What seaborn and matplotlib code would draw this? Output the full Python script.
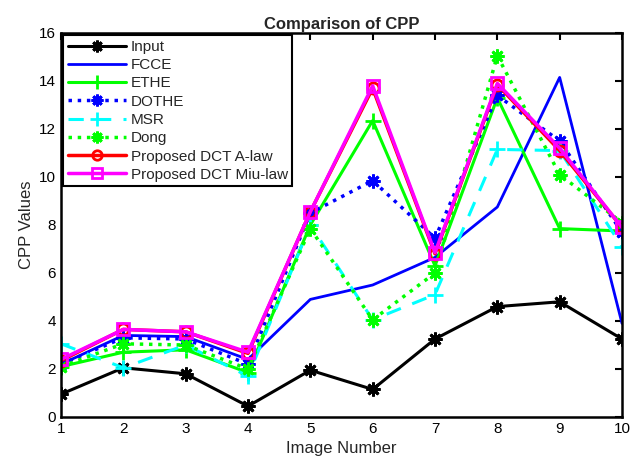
import matplotlib
matplotlib.use("Agg")
import matplotlib.pyplot as plt
import seaborn as sns
import pandas as pd

sns.set_style("white")
plt.rcParams['font.family'] = ['Liberation Sans', 'DejaVu Sans']

images = [1, 2, 3, 4, 5, 6, 7, 8, 9, 10]
series_names = ["Input", "FCCE", "ETHE", "DOTHE", "MSR", "Dong",
                "Proposed DCT A-law", "Proposed DCT Miu-law"]
input_vals = [0.95, 2.05, 1.8, 0.45, 1.95, 1.15, 3.25, 4.6, 4.8, 3.25]
fcce_vals = [2.2, 3.4, 3.35, 2.4, 4.9, 5.5, 6.65, 8.75, 14.15, 3.9]
ethe_vals = [2.1, 2.7, 2.8, 1.85, 8.0, 12.35, 6.3, 13.3, 7.85, 7.75]
dothe_vals = [2.2, 3.3, 3.25, 2.2, 8.5, 9.85, 7.45, 13.4, 11.5, 7.7]
msr_vals = [3.05, 2.05, 3.0, 1.7, 8.0, 4.05, 5.1, 11.15, 11.1, 7.1]
dong_vals = [2.1, 3.05, 3.0, 2.0, 7.85, 4.05, 6.0, 15.05, 10.1, 8.1]
alaw_vals = [2.35, 3.65, 3.55, 2.65, 8.55, 13.7, 6.8, 13.85, 11.1, 7.9]
miulaw_vals = [2.4, 3.65, 3.55, 2.7, 8.55, 13.8, 6.85, 13.9, 11.2, 7.9]

all_vals = [input_vals, fcce_vals, ethe_vals, dothe_vals, msr_vals,
            dong_vals, alaw_vals, miulaw_vals]

styles = {
    "Input": dict(color="black", ls="-", marker=(8, 2, 0), ms=10, mfc="black", lw=2.2),
    "FCCE": dict(color="#0000ff", ls="-", marker=None, ms=0, mfc="none", lw=2),
    "ETHE": dict(color="#00ff00", ls="-", marker="+", ms=12, mfc="none", lw=2.2),
    "DOTHE": dict(color="#0000ff", ls=":", marker=(8, 2, 0), ms=10, mfc="#0000ff", lw=2.5),
    "MSR": dict(color="#00ffff", ls=(0, (5, 4)), marker="+", ms=12, mfc="none", lw=2.2),
    "Dong": dict(color="#00ff00", ls=":", marker=(8, 2, 0), ms=10, mfc="#00ff00", lw=2.5),
    "Proposed DCT A-law": dict(color="#ff0000", ls="-", marker="o", ms=8, mfc="none", lw=2.5),
    "Proposed DCT Miu-law": dict(color="#ff00ff", ls="-", marker="s", ms=8, mfc="none", lw=2.5),
}

fig = plt.figure(figsize=(6.3, 4.67), dpi=100)
ax = fig.add_axes([61/630, 1-417/467, (622-61)/630, (417-33)/467])

for name, vals in zip(series_names, all_vals):
    df = pd.DataFrame({"x": images, "y": vals})
    st = styles[name]
    kw = dict(color=st["color"], linestyle=st["ls"], linewidth=st["lw"], label=name)
    if st["marker"] is not None:
        kw.update(marker=st["marker"], markersize=st["ms"], markerfacecolor=st["mfc"],
                  markeredgecolor=st["color"], markeredgewidth=2)
    sns.lineplot(data=df, x="x", y="y", ax=ax, **kw)

ax.set_xlim(1, 10)
ax.set_ylim(0, 16)
ax.set_xticks(images)
ax.set_yticks(list(range(0, 17, 2)))
ax.tick_params(direction="in", top=True, right=True, length=5, width=1.5,
               labelsize=11, colors="black")
for s in ax.spines.values():
    s.set_visible(True)
    s.set_linewidth(1.8)
    s.set_color("black")
ax.set_xlabel("Image Number", fontsize=12)
ax.set_ylabel("CPP Values", fontsize=12)
ax.set_title("Comparison of CPP", fontsize=12, fontweight="bold", pad=3)

leg = ax.legend(loc="upper left", fontsize=11, frameon=True, fancybox=False,
                edgecolor="black", borderaxespad=0.15, handlelength=3.8,
                labelspacing=0.28, handletextpad=0.3, borderpad=0.3,
                markerscale=0.85)
leg.get_frame().set_linewidth(1.5)
leg.get_frame().set_alpha(1)

fig.savefig("out.png", dpi=100)
